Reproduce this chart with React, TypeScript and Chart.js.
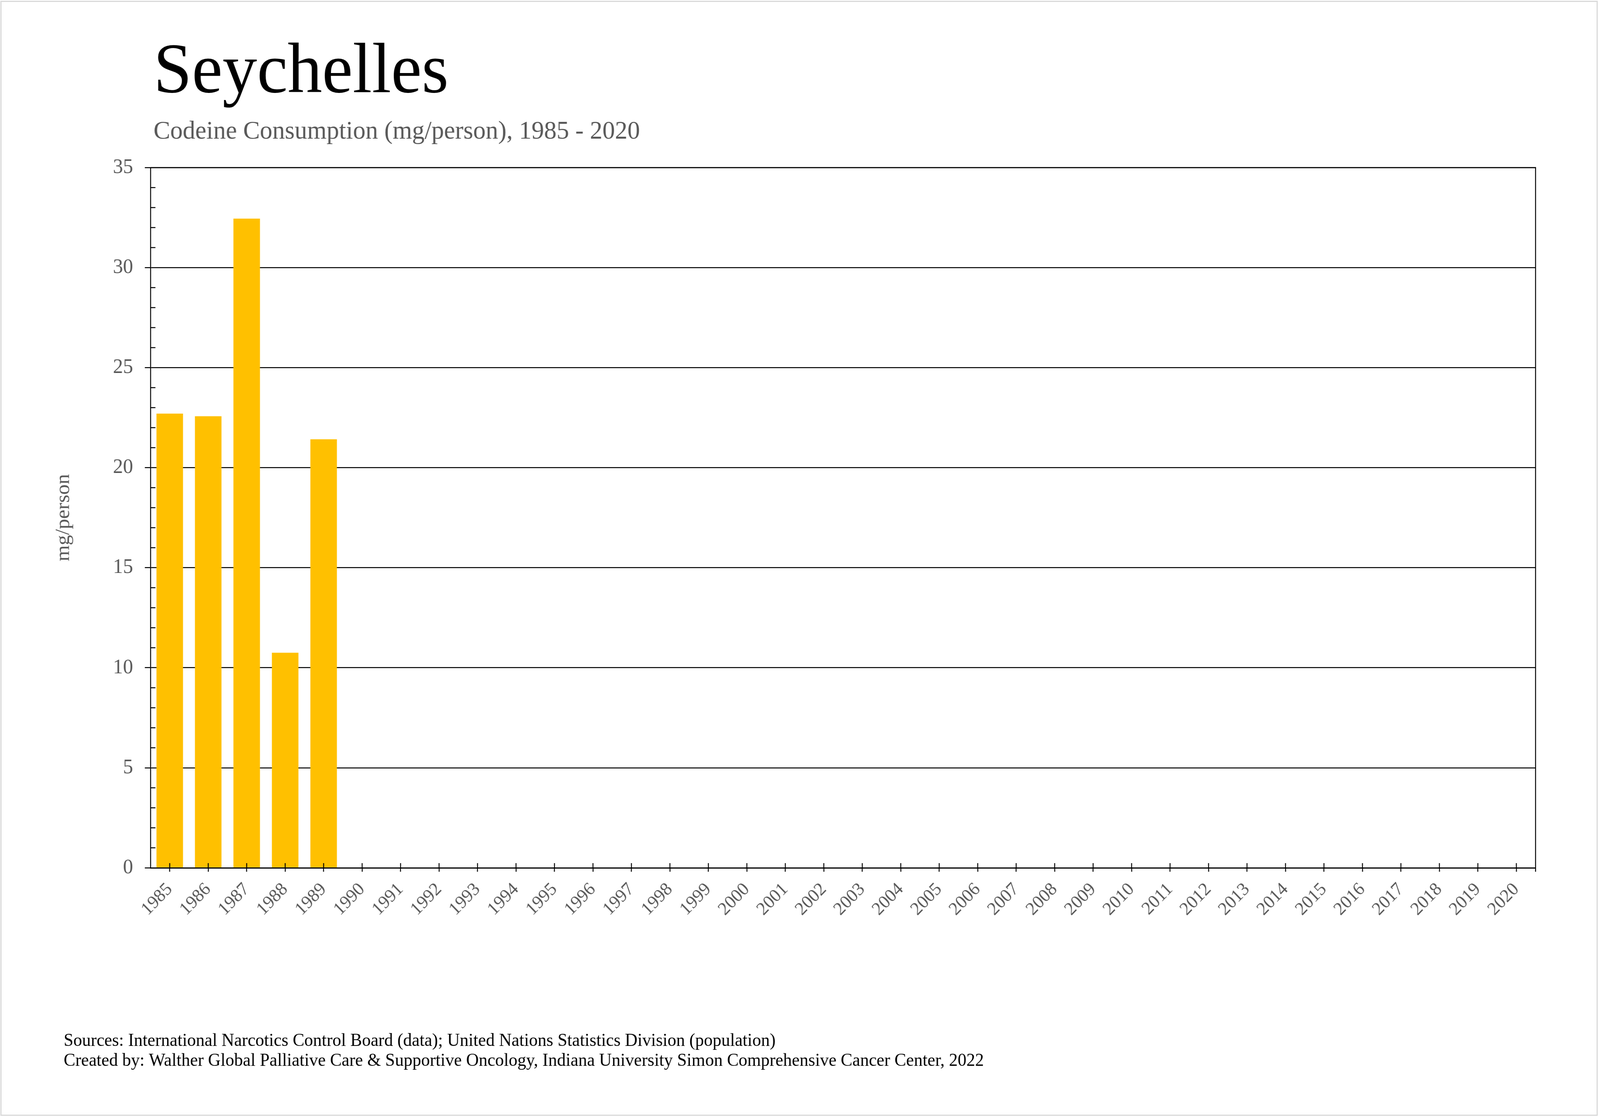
import React, { useEffect, useRef } from "react";
import { Chart, registerables } from "chart.js";

Chart.register(...registerables);

const years: string[] = [
  "1985","1986","1987","1988","1989","1990","1991","1992","1993","1994",
  "1995","1996","1997","1998","1999","2000","2001","2002","2003","2004",
  "2005","2006","2007","2008","2009","2010","2011","2012","2013","2014",
  "2015","2016","2017","2018","2019","2020",
];

const codeineValues: (number | null)[] = [
  22.7, 22.57, 32.45, 10.75, 21.42, null, null, null, null, null,
  null, null, null, null, null, null, null, null, null, null,
  null, null, null, null, null, null, null, null, null, null,
  null, null, null, null, null, null,
];

const titleText = "Seychelles";
const subtitleText = "Codeine Consumption (mg/person), 1985 - 2020";
const yAxisTitle = "mg/person";
const footerLines: string[] = [
  "Sources: International Narcotics Control Board (data); United Nations Statistics Division (population)",
  "Created by: Walther Global Palliative Care & Supportive Oncology, Indiana University Simon Comprehensive Cancer Center, 2022",
];

const FONT = "'Liberation Serif', 'Times New Roman', serif";
const GRAY = "#595959";

const decorPlugin = {
  id: "decor",
  beforeDraw(chart: any) {
    const ctx = chart.ctx;
    ctx.save();
    ctx.fillStyle = "#ffffff";
    ctx.fillRect(0, 0, chart.width, chart.height);
    ctx.strokeStyle = "#d9d9d9";
    ctx.lineWidth = 3;
    ctx.strokeRect(2.5, 3.5, 4211, 2852);
    ctx.restore();
  },
  afterDatasetsDraw(chart: any) {
    const ctx = chart.ctx;
    const area = chart.chartArea;
    const x = chart.scales.x;
    const y = chart.scales.y;
    ctx.save();
    ctx.strokeStyle = "#000000";
    ctx.lineWidth = 2.5;
    // minor inner ticks on y axis
    for (let v = 0; v <= 35; v++) {
      if (v % 5 === 0) continue;
      const py = y.getPixelForValue(v);
      ctx.beginPath();
      ctx.moveTo(area.left, py);
      ctx.lineTo(area.left + 13, py);
      ctx.stroke();
    }
    // x ticks crossing axis (upper part)
    for (let i = 0; i < years.length; i++) {
      const px = x.getPixelForTick(i);
      ctx.beginPath();
      ctx.moveTo(px, area.bottom - 12);
      ctx.lineTo(px, area.bottom);
      ctx.stroke();
    }
    // right end tick
    ctx.beginPath();
    ctx.moveTo(area.right, area.bottom);
    ctx.lineTo(area.right, area.bottom + 10);
    ctx.stroke();
    // plot border top & right
    ctx.beginPath();
    ctx.moveTo(area.left, area.top);
    ctx.lineTo(area.right, area.top);
    ctx.lineTo(area.right, area.bottom);
    ctx.stroke();
    ctx.restore();
  },
  afterDraw(chart: any) {
    const ctx = chart.ctx;
    ctx.save();
    ctx.textAlign = "left";
    ctx.textBaseline = "alphabetic";
    ctx.fillStyle = "#000000";
    ctx.font = `182px ${FONT}`;
    ctx.fillText(titleText, 405, 236);
    ctx.fillStyle = GRAY;
    ctx.font = `66px ${FONT}`;
    ctx.fillText(subtitleText, 405, 355);
    ctx.fillStyle = "#000000";
    ctx.font = `46px ${FONT}`;
    ctx.fillText(footerLines[0], 168, 2678);
    ctx.fillText(footerLines[1], 168, 2729);
    ctx.restore();
  },
};

export default function App() {
  const canvasRef = useRef<HTMLCanvasElement | null>(null);

  useEffect(() => {
    document.body.style.margin = "0";
    document.body.style.overflow = "hidden";
    const canvas = canvasRef.current;
    if (!canvas) return;
    const chart = new Chart(canvas, {
      type: "bar",
      data: {
        labels: years,
        datasets: [
          {
            label: "Codeine",
            data: codeineValues,
            backgroundColor: "#FFC000",
            borderWidth: 0,
            barPercentage: 0.69,
            categoryPercentage: 1,
          },
        ],
      },
      plugins: [decorPlugin],
      options: {
        animation: false,
        responsive: false,
        devicePixelRatio: 1,
        layout: { padding: { left: 120, right: 170, top: 429, bottom: 0 } },
        plugins: {
          legend: { display: false },
          title: { display: false },
          tooltip: { enabled: false },
        },
        scales: {
          x: {
            type: "category",
            offset: true,
            afterFit: (scale: any) => {
              scale.height = 638;
            },
            grid: {
              display: true,
              drawOnChartArea: false,
              drawTicks: true,
              tickLength: 10,
              tickColor: "#000000",
              tickWidth: 2.5,
              offset: false,
            },
            border: { display: true, color: "#000000", width: 3 },
            ticks: {
              autoSkip: false,
              maxRotation: 45,
              minRotation: 45,
              padding: 18,
              color: GRAY,
              font: { family: FONT, size: 47 },
            },
          },
          y: {
            min: 0,
            max: 35,
            afterFit: (scale: any) => {
              scale.width = 277;
            },
            grid: {
              color: (ctx: any) =>
                ctx.tick && ctx.tick.value % 5 === 0 ? "#000000" : "rgba(0,0,0,0)",
              tickColor: (ctx: any) =>
                ctx.tick && ctx.tick.value % 5 === 0 ? "#000000" : "rgba(0,0,0,0)",
              lineWidth: 2.5,
              tickWidth: 2.5,
              tickLength: 15,
              drawTicks: true,
            },
            border: { display: true, color: "#000000", width: 2.5 },
            ticks: {
              stepSize: 1,
              autoSkip: false,
              padding: 31,
              color: GRAY,
              font: { family: FONT, size: 53 },
              callback: (value: any) => (Number(value) % 5 === 0 ? String(value) : ""),
            },
            title: {
              display: true,
              text: yAxisTitle,
              color: GRAY,
              font: { family: FONT, size: 53 },
              padding: { top: 16, bottom: 0 },
            },
          },
        },
      },
    });
    return () => {
      chart.destroy();
    };
  }, []);

  return (
    <div
      style={{
        position: "fixed",
        left: 0,
        top: 0,
        width: "100vw",
        height: "100vh",
        background: "#fff",
        overflow: "hidden",
      }}
    >
      <canvas
        ref={canvasRef}
        width={4221}
        height={2860}
        style={{ display: "block", width: "100%", height: "100%" }}
      />
    </div>
  );
}
